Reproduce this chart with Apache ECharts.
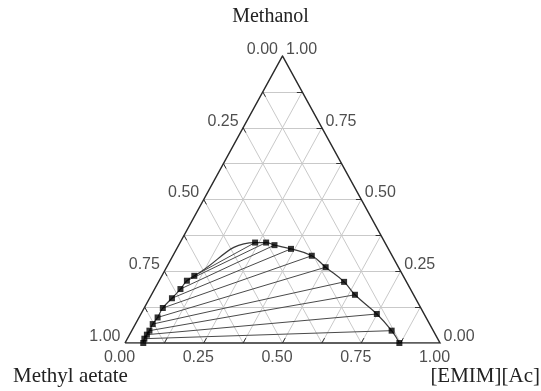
<!DOCTYPE html>
<html>
<head>
<meta charset="utf-8">
<script src="https://cdn.jsdelivr.net/npm/echarts@6/dist/echarts.min.js"></script>
<style>
  html, body { margin: 0; padding: 0; background: #fff; }
  #chart { width: 541px; height: 391px; }
</style>
</head>
<body>
<div id="chart"></div>
<script>
// Ternary LLE diagram: Methyl acetate + Methanol + [EMIM][Ac]
// Compositions are mass fractions of methanol and [EMIM][Ac]; methyl acetate is the balance.

const tickValues = [0, 0.25, 0.5, 0.75, 1];
const tickLabels = ['0.00', '0.25', '0.50', '0.75', '1.00'];

// Methyl acetate-rich phase (tie-line ends, top to bottom)
const organicMeOH = [0.234, 0.217, 0.188, 0.156, 0.122, 0.089, 0.066, 0.043, 0.029, 0.015, 0.000];
const organicIL   = [0.103, 0.088, 0.082, 0.071, 0.059, 0.059, 0.055, 0.056, 0.055, 0.054, 0.058];

// [EMIM][Ac]-rich phase (tie-line ends, top to bottom)
const ilMeOH = [0.350, 0.350, 0.341, 0.328, 0.304, 0.264, 0.213, 0.168, 0.101, 0.043, 0.000];
const ilIL   = [0.238, 0.273, 0.304, 0.363, 0.441, 0.505, 0.589, 0.646, 0.749, 0.825, 0.871];

// ternary (IL, MeOH) -> cartesian (x, y) inside the unit triangle
const toXY = (il, meoh) => [il + meoh / 2, meoh];

const gridStep = 0.125;
const tickLen = 0.017;

const gridLines = [];
const ticks = [];
for (let k = 1; k < 8; k++) {
  const v = k * gridStep;
  gridLines.push({ coords: [toXY(0, v), toXY(1 - v, v)] });       // constant methanol
  gridLines.push({ coords: [toXY(v, 0), toXY(v, 1 - v)] });       // constant [EMIM][Ac]
  gridLines.push({ coords: [toXY(1 - v, 0), toXY(0, 1 - v)] });   // constant methyl acetate
  ticks.push({ coords: [toXY(v, 0), toXY(v, tickLen)] });
  ticks.push({ coords: [toXY(0, v), toXY(tickLen, v - tickLen)] });
  ticks.push({ coords: [toXY(1 - v, v), toXY(1 - v - tickLen, v)] });
}

const organicPts = organicMeOH.map((m, i) => toXY(organicIL[i], m));
const ilPts = ilMeOH.map((m, i) => toXY(ilIL[i], m));
const tieLines = organicPts.map((p, i) => ({ coords: [p, ilPts[i]] }));
const binodal = organicPts.slice().reverse().concat(ilPts);

const baseLabels = tickValues.map((v, i) => ({ name: tickLabels[i], value: toXY(v, 0) }));
// left side: methyl acetate fraction v sits where methanol = 1 - v
const leftLabels = tickValues.map((v, i) => ({ name: tickLabels[i], value: toXY(0, 1 - v) }));
// right side: methanol fraction v
const rightLabels = tickValues.map((v, i) => ({ name: tickLabels[i], value: toXY(1 - v, v) }));

const labelFont = { fontFamily: 'Liberation Sans', fontSize: 16, color: '#222' };
const labelSeries = (data, position, align) => ({
  type: 'scatter',
  data,
  symbolSize: 1,
  itemStyle: { color: 'rgba(0,0,0,0)' },
  silent: true,
  z: 6,
  label: Object.assign({
    show: true, formatter: '{b}', position, align, verticalAlign: 'middle'
  }, labelFont)
});

const chart = echarts.init(document.getElementById('chart'), null, { renderer: 'canvas' });
chart.setOption({
  animation: false,
  backgroundColor: '#fff',
  grid: { left: 125, top: 56, width: 315, height: 287, outerBoundsMode: 'none' },
  xAxis: { type: 'value', min: 0, max: 1, show: false },
  yAxis: { type: 'value', min: 0, max: 1, show: false },
  graphic: [
    { type: 'text', left: 'center', x: 283, y: 17, style: { text: 'Methanol', x: 0, y: 0, textAlign: 'center', textVerticalAlign: 'middle', font: '20px "Liberation Serif"', fill: '#222' }, position: [283, 17] },
    { type: 'text', position: [13, 376], style: { text: 'Methyl aetate', textAlign: 'left', textVerticalAlign: 'middle', font: '21px "Liberation Serif"', fill: '#222' } },
    { type: 'text', position: [540, 376], style: { text: '[EMIM][Ac]', textAlign: 'right', textVerticalAlign: 'middle', font: '21px "Liberation Serif"', fill: '#222' } }
  ],
  series: [
    {
      type: 'lines', coordinateSystem: 'cartesian2d', silent: true, z: 1,
      data: gridLines,
      lineStyle: { color: '#c9c9c9', width: 1, opacity: 1 }
    },
    {
      type: 'lines', coordinateSystem: 'cartesian2d', silent: true, z: 3,
      data: ticks,
      lineStyle: { color: '#333', width: 1, opacity: 1 }
    },
    {
      type: 'lines', coordinateSystem: 'cartesian2d', polyline: true, silent: true, z: 3,
      data: [{ coords: [toXY(0, 0), toXY(1, 0), toXY(0, 1), toXY(0, 0)] }],
      lineStyle: { color: '#2a2a2a', width: 1.5, opacity: 1 }
    },
    {
      type: 'lines', coordinateSystem: 'cartesian2d', silent: true, z: 2,
      data: tieLines,
      lineStyle: { color: '#4a4a4a', width: 1, opacity: 1 }
    },
    {
      type: 'line', data: binodal, smooth: 0.45, showSymbol: false, silent: true, z: 3,
      lineStyle: { color: '#3a3a3a', width: 1.2 }
    },
    {
      type: 'scatter', data: organicPts.concat(ilPts), symbol: 'rect', symbolSize: 6,
      itemStyle: { color: '#000' }, silent: true, z: 5
    },
    labelSeries(baseLabels, [-5, 15], 'center'),
    labelSeries(leftLabels, [-4, -6], 'right'),
    labelSeries(rightLabels, [4, -6], 'left')
  ]
});
</script>
</body>
</html>
